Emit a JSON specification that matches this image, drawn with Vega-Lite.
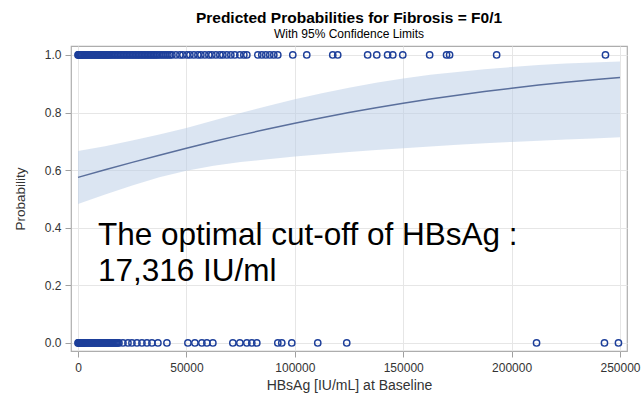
{
  "$schema": "https://vega.github.io/schema/vega-lite/v6.json",
  "width": 556,
  "height": 305,
  "autosize": {"type": "none"},
  "padding": {"left": 71, "top": 46, "right": 15, "bottom": 43},
  "background": "white",
  "config": {
    "font": "Liberation Sans",
    "view": {"stroke": "#adadad", "strokeWidth": 1.2},
    "axis": {
      "domain": false,
      "grid": true,
      "gridColor": "#e6e6e6",
      "gridWidth": 1,
      "tickColor": "#a0a0a0",
      "tickSize": 6,
      "labelFont": "Liberation Sans",
      "labelFontSize": 12,
      "labelColor": "#333333",
      "titleFont": "Liberation Sans",
      "titleFontSize": 14,
      "titleFontWeight": "normal",
      "titleColor": "#333333"
    }
  },
  "title": {
    "text": "Predicted Probabilities for Fibrosis = F0/1",
    "subtitle": "With 95% Confidence Limits",
    "frame": "group",
    "anchor": "middle",
    "font": "Liberation Sans",
    "fontSize": 15.5,
    "fontWeight": "bold",
    "color": "#000000",
    "subtitleFont": "Liberation Sans",
    "subtitleFontSize": 12,
    "subtitleColor": "#000000",
    "subtitlePadding": 3,
    "offset": 6
  },
  "datasets": {
    "fit": [
      {"hbsag": 0, "pred": 0.5749, "lcl": 0.482, "ucl": 0.666},
      {"hbsag": 12500, "pred": 0.6012, "lcl": 0.515, "ucl": 0.683},
      {"hbsag": 25000, "pred": 0.6269, "lcl": 0.547, "ucl": 0.703},
      {"hbsag": 37500, "pred": 0.6518, "lcl": 0.575, "ucl": 0.724},
      {"hbsag": 50000, "pred": 0.6760, "lcl": 0.598, "ucl": 0.746},
      {"hbsag": 62500, "pred": 0.6993, "lcl": 0.615, "ucl": 0.772},
      {"hbsag": 75000, "pred": 0.7215, "lcl": 0.628, "ucl": 0.798},
      {"hbsag": 87500, "pred": 0.7428, "lcl": 0.638, "ucl": 0.823},
      {"hbsag": 100000, "pred": 0.7630, "lcl": 0.647, "ucl": 0.846},
      {"hbsag": 112500, "pred": 0.7820, "lcl": 0.655, "ucl": 0.867},
      {"hbsag": 125000, "pred": 0.7999, "lcl": 0.663, "ucl": 0.886},
      {"hbsag": 137500, "pred": 0.8167, "lcl": 0.670, "ucl": 0.903},
      {"hbsag": 150000, "pred": 0.8324, "lcl": 0.676, "ucl": 0.918},
      {"hbsag": 162500, "pred": 0.8469, "lcl": 0.682, "ucl": 0.931},
      {"hbsag": 175000, "pred": 0.8604, "lcl": 0.688, "ucl": 0.941},
      {"hbsag": 187500, "pred": 0.8730, "lcl": 0.693, "ucl": 0.950},
      {"hbsag": 200000, "pred": 0.8845, "lcl": 0.698, "ucl": 0.958},
      {"hbsag": 212500, "pred": 0.8952, "lcl": 0.702, "ucl": 0.965},
      {"hbsag": 225000, "pred": 0.9049, "lcl": 0.706, "ucl": 0.970},
      {"hbsag": 237500, "pred": 0.9138, "lcl": 0.710, "ucl": 0.974},
      {"hbsag": 250000, "pred": 0.9220, "lcl": 0.714, "ucl": 0.977}
    ],
    "obs": [
      {"hbsag": 0, "f01": 1}, {"hbsag": 230, "f01": 1}, {"hbsag": 460, "f01": 1}, {"hbsag": 690, "f01": 1},
      {"hbsag": 920, "f01": 1}, {"hbsag": 1150, "f01": 1}, {"hbsag": 1380, "f01": 1}, {"hbsag": 1610, "f01": 1},
      {"hbsag": 1840, "f01": 1}, {"hbsag": 2300, "f01": 1}, {"hbsag": 2760, "f01": 1}, {"hbsag": 3230, "f01": 1},
      {"hbsag": 3690, "f01": 1}, {"hbsag": 4150, "f01": 1}, {"hbsag": 4610, "f01": 1}, {"hbsag": 5070, "f01": 1},
      {"hbsag": 5530, "f01": 1}, {"hbsag": 6000, "f01": 1}, {"hbsag": 6450, "f01": 1}, {"hbsag": 6910, "f01": 1},
      {"hbsag": 7370, "f01": 1}, {"hbsag": 7830, "f01": 1}, {"hbsag": 8290, "f01": 1}, {"hbsag": 8760, "f01": 1},
      {"hbsag": 9220, "f01": 1}, {"hbsag": 9680, "f01": 1}, {"hbsag": 10140, "f01": 1}, {"hbsag": 10600, "f01": 1},
      {"hbsag": 11060, "f01": 1}, {"hbsag": 11520, "f01": 1}, {"hbsag": 11980, "f01": 1}, {"hbsag": 12440, "f01": 1},
      {"hbsag": 12900, "f01": 1}, {"hbsag": 13360, "f01": 1}, {"hbsag": 13820, "f01": 1}, {"hbsag": 14290, "f01": 1},
      {"hbsag": 14750, "f01": 1}, {"hbsag": 15440, "f01": 1}, {"hbsag": 16130, "f01": 1}, {"hbsag": 16820, "f01": 1},
      {"hbsag": 17510, "f01": 1}, {"hbsag": 18200, "f01": 1}, {"hbsag": 18890, "f01": 1}, {"hbsag": 19580, "f01": 1},
      {"hbsag": 20280, "f01": 1}, {"hbsag": 20970, "f01": 1}, {"hbsag": 21660, "f01": 1}, {"hbsag": 22350, "f01": 1},
      {"hbsag": 23040, "f01": 1}, {"hbsag": 23730, "f01": 1}, {"hbsag": 24420, "f01": 1}, {"hbsag": 25110, "f01": 1},
      {"hbsag": 25800, "f01": 1}, {"hbsag": 26500, "f01": 1}, {"hbsag": 27190, "f01": 1}, {"hbsag": 27880, "f01": 1},
      {"hbsag": 28570, "f01": 1}, {"hbsag": 29260, "f01": 1}, {"hbsag": 29950, "f01": 1}, {"hbsag": 30640, "f01": 1},
      {"hbsag": 31330, "f01": 1}, {"hbsag": 32030, "f01": 1}, {"hbsag": 32720, "f01": 1}, {"hbsag": 33410, "f01": 1},
      {"hbsag": 34100, "f01": 1}, {"hbsag": 34790, "f01": 1}, {"hbsag": 35480, "f01": 1}, {"hbsag": 36170, "f01": 1},
      {"hbsag": 36860, "f01": 1}, {"hbsag": 37780, "f01": 1}, {"hbsag": 38710, "f01": 1}, {"hbsag": 39630, "f01": 1},
      {"hbsag": 40550, "f01": 1}, {"hbsag": 41470, "f01": 1}, {"hbsag": 42390, "f01": 1}, {"hbsag": 43320, "f01": 1},
      {"hbsag": 45160, "f01": 1}, {"hbsag": 47000, "f01": 1}, {"hbsag": 48380, "f01": 1}, {"hbsag": 50230, "f01": 1},
      {"hbsag": 51610, "f01": 1}, {"hbsag": 53450, "f01": 1}, {"hbsag": 55300, "f01": 1}, {"hbsag": 56680, "f01": 1},
      {"hbsag": 58520, "f01": 1}, {"hbsag": 60360, "f01": 1}, {"hbsag": 61750, "f01": 1}, {"hbsag": 63590, "f01": 1},
      {"hbsag": 65430, "f01": 1}, {"hbsag": 66820, "f01": 1}, {"hbsag": 68660, "f01": 1}, {"hbsag": 70500, "f01": 1},
      {"hbsag": 72350, "f01": 1}, {"hbsag": 74650, "f01": 1}, {"hbsag": 76490, "f01": 1}, {"hbsag": 77880, "f01": 1},
      {"hbsag": 82940, "f01": 1}, {"hbsag": 84790, "f01": 1}, {"hbsag": 86630, "f01": 1}, {"hbsag": 88470, "f01": 1},
      {"hbsag": 90320, "f01": 1}, {"hbsag": 92160, "f01": 1}, {"hbsag": 99070, "f01": 1}, {"hbsag": 105520, "f01": 1},
      {"hbsag": 117500, "f01": 1}, {"hbsag": 119800, "f01": 1}, {"hbsag": 133600, "f01": 1}, {"hbsag": 137800, "f01": 1},
      {"hbsag": 142800, "f01": 1}, {"hbsag": 145200, "f01": 1}, {"hbsag": 149800, "f01": 1}, {"hbsag": 162200, "f01": 1},
      {"hbsag": 170000, "f01": 1}, {"hbsag": 171400, "f01": 1}, {"hbsag": 193100, "f01": 1}, {"hbsag": 243300, "f01": 1},
      {"hbsag": 0, "f01": 0}, {"hbsag": 230, "f01": 0}, {"hbsag": 460, "f01": 0}, {"hbsag": 690, "f01": 0},
      {"hbsag": 920, "f01": 0}, {"hbsag": 1150, "f01": 0}, {"hbsag": 1380, "f01": 0}, {"hbsag": 1610, "f01": 0},
      {"hbsag": 1840, "f01": 0}, {"hbsag": 2070, "f01": 0}, {"hbsag": 2300, "f01": 0}, {"hbsag": 2530, "f01": 0},
      {"hbsag": 2760, "f01": 0}, {"hbsag": 3230, "f01": 0},
      {"hbsag": 3690, "f01": 0}, {"hbsag": 4150, "f01": 0}, {"hbsag": 4610, "f01": 0}, {"hbsag": 5070, "f01": 0},
      {"hbsag": 5530, "f01": 0}, {"hbsag": 6000, "f01": 0}, {"hbsag": 6450, "f01": 0}, {"hbsag": 6910, "f01": 0},
      {"hbsag": 7370, "f01": 0}, {"hbsag": 7830, "f01": 0}, {"hbsag": 8290, "f01": 0}, {"hbsag": 8760, "f01": 0},
      {"hbsag": 9220, "f01": 0}, {"hbsag": 9680, "f01": 0}, {"hbsag": 10140, "f01": 0}, {"hbsag": 10600, "f01": 0},
      {"hbsag": 11060, "f01": 0}, {"hbsag": 11520, "f01": 0}, {"hbsag": 11980, "f01": 0}, {"hbsag": 12440, "f01": 0},
      {"hbsag": 12900, "f01": 0}, {"hbsag": 13360, "f01": 0}, {"hbsag": 13820, "f01": 0}, {"hbsag": 14290, "f01": 0},
      {"hbsag": 14750, "f01": 0}, {"hbsag": 15210, "f01": 0}, {"hbsag": 15670, "f01": 0}, {"hbsag": 16130, "f01": 0},
      {"hbsag": 16590, "f01": 0}, {"hbsag": 17050, "f01": 0}, {"hbsag": 17510, "f01": 0}, {"hbsag": 17970, "f01": 0},
      {"hbsag": 18430, "f01": 0}, {"hbsag": 18890, "f01": 0}, {"hbsag": 20740, "f01": 0}, {"hbsag": 23040, "f01": 0},
      {"hbsag": 24880, "f01": 0}, {"hbsag": 27190, "f01": 0}, {"hbsag": 29490, "f01": 0}, {"hbsag": 31800, "f01": 0},
      {"hbsag": 34100, "f01": 0}, {"hbsag": 36860, "f01": 0}, {"hbsag": 41010, "f01": 0}, {"hbsag": 50690, "f01": 0},
      {"hbsag": 53910, "f01": 0}, {"hbsag": 57140, "f01": 0}, {"hbsag": 59440, "f01": 0}, {"hbsag": 62210, "f01": 0},
      {"hbsag": 71420, "f01": 0}, {"hbsag": 74650, "f01": 0}, {"hbsag": 77880, "f01": 0}, {"hbsag": 80180, "f01": 0},
      {"hbsag": 82480, "f01": 0}, {"hbsag": 92160, "f01": 0}, {"hbsag": 94000, "f01": 0}, {"hbsag": 98610, "f01": 0},
      {"hbsag": 110590, "f01": 0}, {"hbsag": 123960, "f01": 0}, {"hbsag": 211510, "f01": 0}, {"hbsag": 242840, "f01": 0},
      {"hbsag": 249290, "f01": 0}
    ],
    "note": [
      {"hbsag": 9200, "prob": 0.34, "label": "The optimal cut-off of HBsAg :\n17,316 IU/ml"}
    ]
  },
  "layer": [
    {
      "data": {"name": "fit"},
      "mark": {"type": "area", "fill": "#b8cbe6", "opacity": 0.5},
      "encoding": {
        "x": {
          "field": "hbsag",
          "type": "quantitative",
          "scale": {"domain": [-3230, 253230], "nice": false, "zero": false},
          "axis": {
            "values": [0, 50000, 100000, 150000, 200000, 250000],
            "format": "d",
            "labelPadding": 5,
            "title": "HBsAg [IU/mL] at Baseline",
            "titlePadding": 5
          }
        },
        "y": {
          "field": "lcl",
          "type": "quantitative",
          "scale": {"domain": [-0.028, 1.031], "nice": false, "zero": false},
          "axis": {
            "values": [0, 0.2, 0.4, 0.6, 0.8, 1.0],
            "format": ".1f",
            "labelPadding": 4,
            "title": "Probability",
            "titleFontSize": 13.5,
            "titlePadding": 17
          }
        },
        "y2": {"field": "ucl"}
      }
    },
    {
      "data": {"name": "fit"},
      "mark": {"type": "line", "color": "#5a6f9c", "strokeWidth": 1.5},
      "encoding": {
        "x": {"field": "hbsag", "type": "quantitative"},
        "y": {"field": "pred", "type": "quantitative"}
      }
    },
    {
      "data": {"name": "obs"},
      "mark": {"type": "point", "shape": "circle", "filled": false, "color": "#1d3f9a", "size": 40, "strokeWidth": 1.4, "opacity": 1},
      "encoding": {
        "x": {"field": "hbsag", "type": "quantitative"},
        "y": {"field": "f01", "type": "quantitative"}
      }
    },
    {
      "data": {"name": "note"},
      "mark": {
        "type": "text",
        "align": "left",
        "baseline": "alphabetic",
        "font": "Liberation Sans",
        "fontSize": 31.5,
        "lineHeight": 36,
        "lineBreak": "\n",
        "color": "#000000"
      },
      "encoding": {
        "x": {"field": "hbsag", "type": "quantitative"},
        "y": {"field": "prob", "type": "quantitative"},
        "text": {"field": "label"}
      }
    }
  ]
}
